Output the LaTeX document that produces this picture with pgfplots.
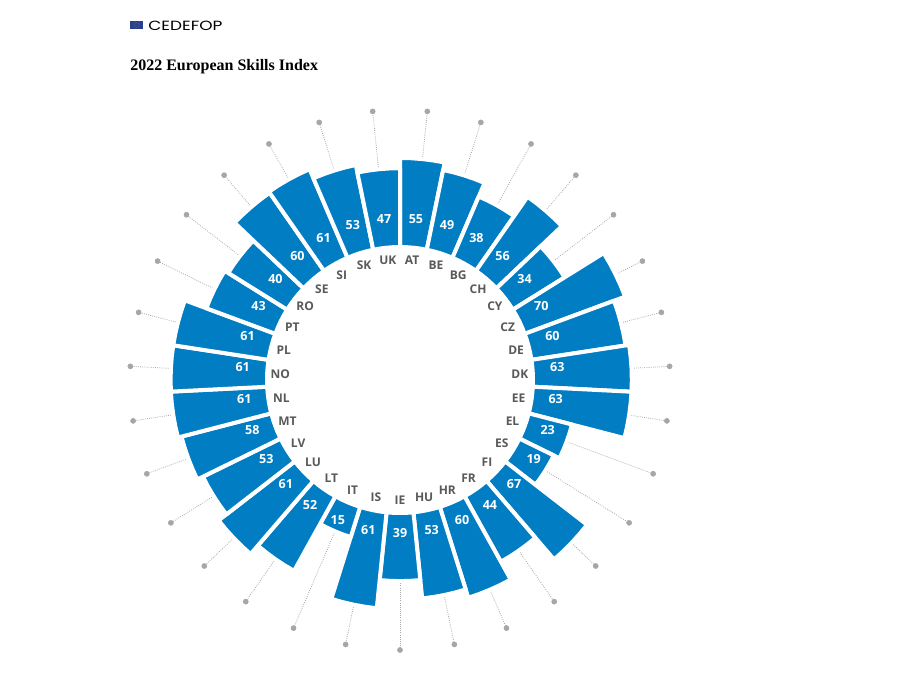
\documentclass[border=0pt]{standalone}
\usepackage{fontspec}
\usepackage{pgfplots}
\usepackage{pgfplotstable}
\usepgfplotslibrary{polar}
\pgfplotsset{compat=1.18}
\setmainfont{Open Sans}
\newfontfamily\titlefont{Liberation Serif}
\newfontfamily\logofont{Poppins}

\definecolor{barblue}{HTML}{007DC3}
\definecolor{labelgrey}{HTML}{595959}
\definecolor{leadgrey}{HTML}{A6A6A6}
\definecolor{flagblue}{HTML}{2B3F91}

\pgfplotstableread{
code val
AT 55
BE 49
BG 38
CH 56
CY 34
CZ 70
DE 60
DK 63
EE 63
EL 23
ES 19
FI 67
FR 44
HR 60
HU 53
IE 39
IS 61
IT 15
LT 52
LU 61
LV 53
MT 58
NL 61
NO 61
PL 61
PT 43
RO 40
SE 60
SI 61
SK 53
UK 47
}\skills

% 1 px of the reference is 0.75pt here; radii in the axis are in px
\def\dstep{11.6129}
\begin{document}
\begin{tikzpicture}[x=0.75pt,y=-0.75pt]
\path[use as bounding box] (0,0) rectangle (900,675);
\fill[flagblue] (130,21) rectangle (143,29);
\draw[yellow!60!flagblue,line width=0.3pt,densely dotted] (136.5,25) circle[radius=2.6];
\node[anchor=west,inner sep=0pt,font=\logofont\fontsize{10}{11}\selectfont,xscale=1.27] at (148,25.5) {CEDEFOP};
\node[anchor=base west,inner sep=0pt,font=\titlefont\bfseries\fontsize{12}{14}\selectfont] at (130,70) {2022 European Skills Index};
\begin{polaraxis}[
    at={(300pt,-285pt)},anchor=center,
    scale only axis,width=450pt,height=450pt,
    xmin=0,xmax=360,ymin=0,ymax=300,
    hide axis,clip=false,
]
\pgfplotsinvokeforeach{0,...,30}{
    \pgfplotstablegetelem{#1}{val}\of\skills
    \let\barval\pgfplotsretval
    \pgfplotstablegetelem{#1}{code}\of\skills
    \let\barcode\pgfplotsretval
    % square-root radial scale: r^2 = 135^2 + 549*value
    \pgfmathsetmacro\rr{100*sqrt(1.8225+0.0549*\barval)}
    \pgfmathsetmacro\ro{\rr+2}
    \pgfmathsetmacro\ri{133}
    \pgfmathsetmacro\ta{450-#1*\dstep}
    \pgfmathsetmacro\tb{\ta-\dstep/4}
    \pgfmathsetmacro\tc{\ta-\dstep/2}
    \pgfmathsetmacro\td{\ta-3*\dstep/4}
    \pgfmathsetmacro\te{\ta-\dstep}
    \edef\barcmd{
        \noexpand\addplot[leadgrey,densely dotted,line width=0.6pt] coordinates {(\tc,\rr) (\tc,270)};
        \noexpand\addplot[only marks,mark=*,mark size=1.9pt,leadgrey] coordinates {(\tc,270)};
        \noexpand\addplot[fill=barblue,draw=white,line width=3pt,line join=round] coordinates {
            (\ta,\ri) (\ta,\ro) (\tb,\ro) (\tc,\ro) (\td,\ro) (\te,\ro) (\te,\ri) (\td,\ri) (\tc,\ri) (\tb,\ri)
        } -- cycle;
        \noexpand\node[text=labelgrey,font=\noexpand\bfseries\noexpand\fontsize{9}{10}\noexpand\selectfont,inner sep=0pt] at (axis cs:\tc,120) {\barcode};
        \noexpand\node[text=white,font=\noexpand\bfseries\noexpand\fontsize{9.4}{10}\noexpand\selectfont,inner sep=0pt,yshift=3.4pt] at (axis cs:\tc,157.5) {\barval};
    }
    \barcmd
}
\end{polaraxis}
\end{tikzpicture}
\end{document}
